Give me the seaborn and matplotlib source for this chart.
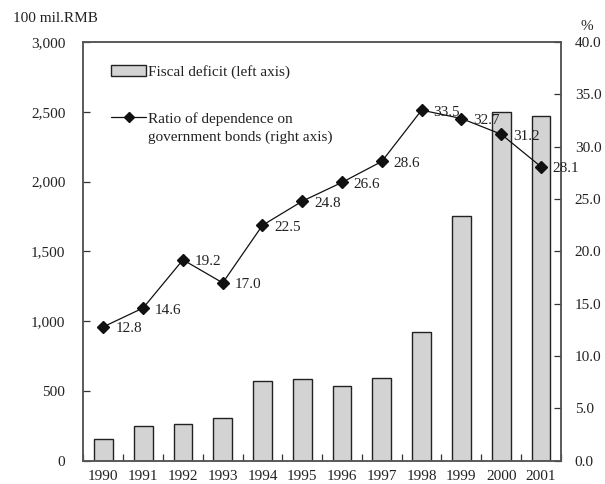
import numpy as np
import pandas as pd
import matplotlib
matplotlib.use("Agg")
import matplotlib.pyplot as plt
import seaborn as sns
from matplotlib.lines import Line2D
from matplotlib.patches import Patch

years = ["1990", "1991", "1992", "1993", "1994", "1995", "1996", "1997", "1998", "1999", "2000", "2001"]
deficit = [153, 251, 265, 303, 573, 583, 533, 590, 920, 1753, 2496, 2471]
ratio = [12.8, 14.6, 19.2, 17.0, 22.5, 24.8, 26.6, 28.6, 33.5, 32.7, 31.2, 28.1]
left_ticks = [0, 500, 1000, 1500, 2000, 2500, 3000]
right_ticks = [0, 5, 10, 15, 20, 25, 30, 35, 40]

FS = 11
sns.set_theme(style="white")
plt.rcParams["font.family"] = ["Liberation Serif", "DejaVu Serif"]
plt.rcParams["font.size"] = FS

df = pd.DataFrame({"year": years, "deficit": deficit, "ratio": ratio})

fig = plt.figure(figsize=(6.05, 4.84), dpi=100)
ax = fig.add_axes([0.138, 0.048, 0.789, 0.865])
sns.barplot(data=df, x="year", y="deficit", ax=ax, color="#d3d3d3",
            edgecolor="#222222", linewidth=1.0, width=0.47, saturation=1)
ax.set_xlim(-0.5, len(years) - 0.5)
ax.set_ylim(0, 3000)
ax.set_yticks(left_ticks)
ax.set_yticklabels([f"{v:,}" for v in left_ticks])
ax.set_xlabel("")
ax.set_ylabel("")
ax.set_xticks(np.arange(len(years)))
ax.set_xticklabels(years)
ax.set_xticks(np.arange(len(years) + 1) - 0.5, minor=True)
ax.tick_params(axis="x", which="major", length=0, pad=7, labelsize=FS, colors="#222222")
ax.tick_params(axis="x", which="minor", direction="in", length=5, width=0.9, color="#333333", bottom=True)
ax.tick_params(axis="y", direction="in", length=5, width=0.9, color="#333333", left=True, pad=13,
               labelsize=FS, labelcolor="#222222")
for s in ax.spines.values():
    s.set_color("#555555")
    s.set_linewidth(1.1)

ax2 = ax.twinx()
xpos = np.arange(len(years))
ax2.plot(xpos, df["ratio"], color="#111111", linewidth=0.9, marker="D", markersize=6,
         markerfacecolor="#111111", markeredgecolor="#111111")
ax2.set_ylim(0, 40)
ax2.set_yticks(right_ticks)
ax2.set_yticklabels([f"{v:.1f}" for v in right_ticks])
ax2.tick_params(axis="y", direction="in", length=5, width=0.9, color="#333333", right=True, pad=10,
                labelsize=FS, labelcolor="#222222")
ax2.grid(False)
for s in ax2.spines.values():
    s.set_color("#555555")
    s.set_linewidth(1.1)
for x, v in zip(xpos, df["ratio"]):
    ax2.annotate(f"{v:.1f}", (x, v), xytext=(8.5, -1.5), textcoords="offset points",
                 ha="left", va="center", fontsize=FS, color="#222222")

fig.text(0.022, 0.962, "100 mil.RMB", ha="left", va="center", fontsize=FS, color="#222222")
fig.text(0.970, 0.946, "%", ha="center", va="center", fontsize=FS, color="#222222")

handles = [Patch(facecolor="#d3d3d3", edgecolor="#222222", linewidth=1.0),
           Line2D([0], [0], color="#111111", linewidth=0.9, marker="D", markersize=5.5)]
labels = ["Fiscal deficit (left axis)", "Ratio of dependence on"]
leg = ax.legend(handles, labels, loc="upper left", bbox_to_anchor=(0.0576, 0.945), frameon=False,
                handlelength=2.3, handleheight=0.65, handletextpad=0.15, labelspacing=2.15,
                fontsize=FS, borderaxespad=0, borderpad=0)
for t in leg.get_texts():
    t.set_color("#222222")

fig.canvas.draw()
bb = leg.get_texts()[1].get_window_extent()
inv = fig.transFigure.inverted()
x0, y0 = inv.transform((bb.x0, bb.y0))
fig.text(x0, y0 - 5.0 / 484, "government bonds (right axis)", ha="left", va="top",
         fontsize=FS, color="#222222")

fig.savefig("out.png", dpi=100)
